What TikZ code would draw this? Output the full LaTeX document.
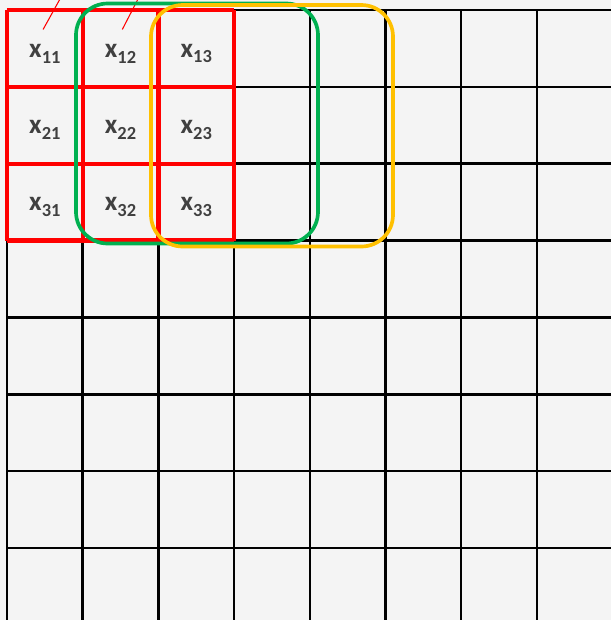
\documentclass[tikz,border=0pt]{standalone}
\usepackage{fontspec}
\setsansfont{Carlito}
\usetikzlibrary{positioning}
\definecolor{gridBack}{HTML}{F4F4F4}
\definecolor{kernelRed}{HTML}{FF0000}
\definecolor{windowGreen}{HTML}{00B050}
\definecolor{windowYellow}{HTML}{FFC000}
\definecolor{textGray}{HTML}{404040}
\newcommand{\cellsub}[1]{\raisebox{-0.45ex}{\fontsize{10.5}{12}\selectfont #1}}
\tikzset{
    gridline/.style={draw=black, line width=1.4pt},
    kernel/.style={draw=kernelRed, line width=2.4pt},
    window/.style={line width=2.1pt, rounded corners=18pt},
    cell/.style={font=\sffamily\bfseries\fontsize{15.5}{17}\selectfont, text=textGray, inner sep=0pt},
    pointer/.style={draw=kernelRed, line width=0.6pt},
}
\begin{document}
\begin{tikzpicture}[x=0.02cm, y=-0.02cm]
    \fill[gridBack] (0,0) rectangle (611,620);
    \useasboundingbox (0,0) rectangle (611,620);

    % input grid
    \foreach \i in {0,...,7}
        \draw[gridline] ({7+75.71*\i},10) -- ({7+75.71*\i},625);
    \foreach \j in {0,...,7}
        \draw[gridline] (7,{10+76.86*\j}) -- (615,{10+76.86*\j});

    % 3x3 kernel
    \foreach \i in {0,...,3}
        \draw[kernel] ({7+75.71*\i},10) -- ({7+75.71*\i},240.6);
    \foreach \j in {0,...,3}
        \draw[kernel] (7,{10+76.86*\j}) -- (234.1,{10+76.86*\j});

    \foreach \r in {1,2,3}
        \foreach \c in {1,2,3}
            \node[cell] (x\r\c) at ({7+75.71*(\c-0.5)},{10+76.86*(\r-0.5)+5}) {x\cellsub{\r\c}};

    \coordinate (p11) at (60,-1);
    \coordinate (p12) at (138,-1);
    \draw[pointer] ([xshift=-1pt,yshift=8pt]x11.north) -- (p11);
    \draw[pointer] ([xshift=1pt,yshift=8pt]x12.north) -- (p12);

    % sliding windows
    \draw[window, draw=windowGreen] (76,3.5) rectangle (318,243.5);
    \draw[window, draw=windowYellow] (151,5) rectangle (393,246.5);
\end{tikzpicture}
\end{document}
